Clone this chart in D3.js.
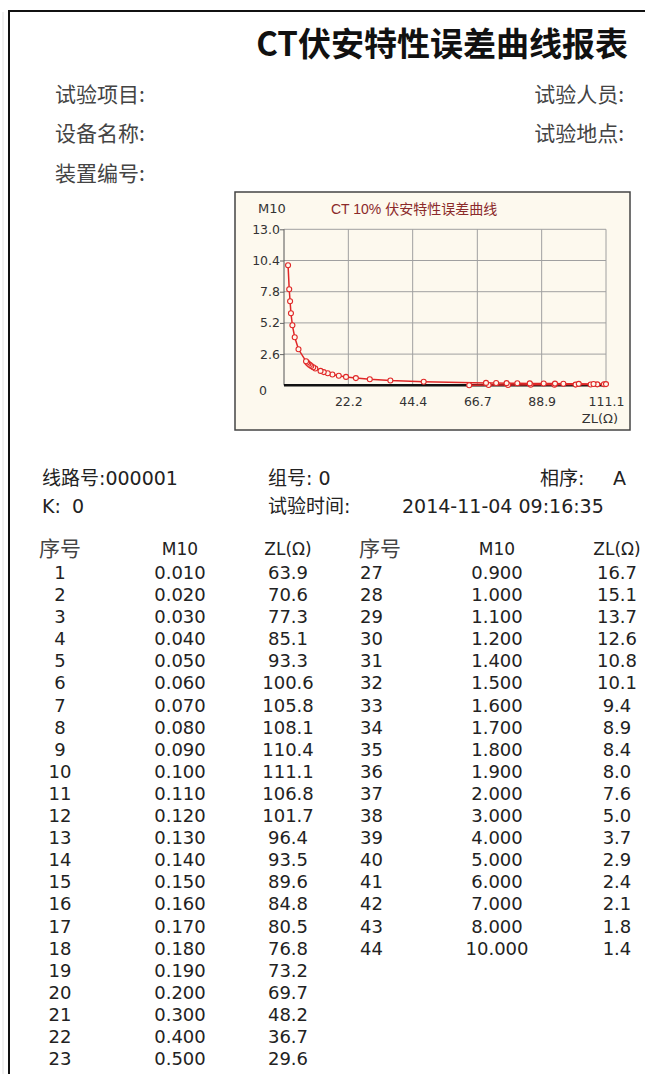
<!DOCTYPE html>
<html><head><meta charset="utf-8">
<script src="https://cdn.jsdelivr.net/npm/d3@7/dist/d3.min.js"></script>
<style>html,body{margin:0;padding:0;background:#fff;overflow:hidden}</style>
</head><body>
<svg id="c" width="645" height="1074"></svg>
<script>
// ---- data ----
const seq = [1,2,3,4,5,6,7,8,9,10,11,12,13,14,15,16,17,18,19,20,21,22,23,24,25,26,27,28,29,30,31,32,33,34,35,36,37,38,39,40,41,42,43,44];
const m10 = [0.010,0.020,0.030,0.040,0.050,0.060,0.070,0.080,0.090,0.100,0.110,0.120,0.130,0.140,0.150,0.160,0.170,0.180,0.190,0.200,0.300,0.400,0.500,0.600,0.700,0.800,0.900,1.000,1.100,1.200,1.400,1.500,1.600,1.700,1.800,1.900,2.000,3.000,4.000,5.000,6.000,7.000,8.000,10.000];
const zl = [63.9,70.6,77.3,85.1,93.3,100.6,105.8,108.1,110.4,111.1,106.8,101.7,96.4,93.5,89.6,84.8,80.5,76.8,73.2,69.7,48.2,36.7,29.6,24.8,21.4,18.9,16.7,15.1,13.7,12.6,10.8,10.1,9.4,8.9,8.4,8.0,7.6,5.0,3.7,2.9,2.4,2.1,1.8,1.4];
const yTicks = [0, 2.6, 5.2, 7.8, 10.4, 13.0];
const yTickLabels = ["0","2.6","5.2","7.8","10.4","13.0"];
const xTicks = [22.2, 44.4, 66.7, 88.9, 111.1];
const xTickLabels = ["22.2","44.4","66.7","88.9","111.1"];
const reportTitle = "CT伏安特性误差曲线报表";
const chartTitle = "CT 10% 伏安特性误差曲线";
const leftRows = 26;     // first column holds rows 1..26
const leftVisible = 23;  // rows 24-26 lie below the page edge in the reference

const svg = d3.select("#c");
const CJK = "'DejaVu Sans','Noto Sans CJK SC',sans-serif";
const NUM = "'DejaVu Sans',sans-serif";

// page border
svg.append("line").attr("x1",3).attr("x2",3).attr("y1",12).attr("y2",1074).attr("stroke","#e2e2e2").attr("stroke-width",1);
svg.append("path").attr("d","M9,1074 V11 H645").attr("fill","none").attr("stroke","#111").attr("stroke-width",2);

// title
svg.append("text").attr("x",628).attr("y",56).attr("text-anchor","end")
  .attr("font-family","'Noto Sans CJK SC',sans-serif").attr("font-weight","bold").attr("font-size",33)
  .attr("fill","#111").text(reportTitle);

// header labels
const labStyle = s => s.attr("font-family","'Noto Sans CJK SC',sans-serif").attr("font-size",21).attr("fill","#444");
labStyle(svg.append("text").attr("x",55).attr("y",102)).text("试验项目:");
labStyle(svg.append("text").attr("x",624).attr("y",102).attr("text-anchor","end")).text("试验人员:");
labStyle(svg.append("text").attr("x",55).attr("y",141)).text("设备名称:");
labStyle(svg.append("text").attr("x",624).attr("y",141).attr("text-anchor","end")).text("试验地点:");
labStyle(svg.append("text").attr("x",55).attr("y",181)).text("装置编号:");

// ---- chart ----
svg.append("rect").attr("x",235).attr("y",192).attr("width",395).attr("height",238)
  .attr("fill","#fdf9ee").attr("stroke","#444").attr("stroke-width",1.5);
const L=284, R=606, T=229.3, B=385.3;
const x = d3.scaleLinear().domain([0,111.1]).range([L,R]);
const y = d3.scaleLinear().domain([0,13]).range([B,T]);
const g = svg.append("g");
// grid
g.selectAll(".gy").data(yTicks.slice(1)).join("line")
  .attr("x1",L).attr("x2",R).attr("y1",d=>y(d)).attr("y2",d=>y(d)).attr("stroke","#a0a0a0").attr("stroke-width",1);
g.selectAll(".gx").data(xTicks).join("line")
  .attr("x1",d=>x(d)).attr("x2",d=>x(d)).attr("y1",T).attr("y2",B).attr("stroke","#a0a0a0").attr("stroke-width",1);
// left axis
const yAxis = d3.axisLeft(y).tickValues(yTicks.slice(1)).tickSize(4).tickFormat((d,i)=>yTickLabels[i+1]);
const ya = g.append("g").attr("transform",`translate(${L},0)`).call(yAxis);
ya.select(".domain").attr("stroke","#555").attr("d",`M0,${T}V${B}`);
ya.selectAll(".tick line").attr("stroke","#666");
ya.selectAll(".tick text").attr("font-family",NUM).attr("font-size",12.5).attr("fill","#333").attr("x",-4);
// zero label
g.append("text").attr("x",263).attr("y",395).attr("text-anchor","middle")
  .attr("font-family",NUM).attr("font-size",12.5).attr("fill","#333").text(yTickLabels[0]);
// bottom axis
const xAxis = d3.axisBottom(x).tickValues(xTicks).tickSize(0).tickPadding(12).tickFormat((d,i)=>xTickLabels[i]);
const xa = g.append("g").attr("transform",`translate(0,${B})`).call(xAxis);
xa.select(".domain").attr("stroke","#111").attr("stroke-width",2.5).attr("d",`M${L},0H${R}`);
xa.selectAll(".tick text").attr("font-family",NUM).attr("font-size",12.5).attr("fill","#333");
g.append("text").attr("x",618).attr("y",423).attr("text-anchor","end")
  .attr("font-family",NUM).attr("font-size",13).attr("fill","#333").text("ZL(Ω)");
g.append("text").attr("x",272).attr("y",213).attr("text-anchor","middle")
  .attr("font-family",NUM).attr("font-size",13).attr("fill","#333").text("M10");
g.append("text").attr("x",331).attr("y",214)
  .attr("font-family","'Liberation Sans','Noto Sans CJK SC',sans-serif").attr("font-size",14).attr("fill","#8b2a2a").text(chartTitle);
// series
const pts = zl.map((v,i)=>({zl:v, m:m10[i]}));
g.append("path").datum(pts).attr("fill","none").attr("stroke","#e02828").attr("stroke-width",1.5)
  .attr("d", d3.line().x(d=>x(d.zl)).y(d=>y(d.m)));
g.selectAll(".pt").data(pts).join("circle")
  .attr("cx",d=>x(d.zl)).attr("cy",d=>y(d.m)).attr("r",2.5)
  .attr("fill","#fdf9ee").attr("stroke","#e02828").attr("stroke-width",1.1);

// ---- info rows ----
const info = (xx,yy,t,anchor) => svg.append("text").attr("x",xx).attr("y",yy).attr("text-anchor",anchor||"start")
  .attr("font-family",CJK).attr("font-size",19).attr("fill","#222").text(t);
info(42,485,"线路号:000001");
info(268,485,"组号: 0");
info(540,485,"相序:");
info(626,485,"A","end");
info(42,513,"K:");
info(72,513,"0");
info(268,513,"试验时间:");
info(402,513,"2014-11-04 09:16:35");

// ---- table ----
const rowY0 = 572.4, rowH = 22.1;
const cols = [
  {seqX:60, seqAnchor:"middle", hdrX:60, hdrAnchor:"middle", mX:180, zX:288},
  {seqX:360, seqAnchor:"start", hdrX:359, hdrAnchor:"start", mX:497, zX:617}
];
const hdrY = 549;
cols.forEach(c=>{
  svg.append("text").attr("x",c.hdrX).attr("y",hdrY+7).attr("text-anchor",c.hdrAnchor)
    .attr("font-family","'Noto Sans CJK SC',sans-serif").attr("font-size",21).attr("fill","#444").text("序号");
  const hs = svg.append("g").attr("font-family",NUM).attr("font-size",17).attr("fill","#222");
  hs.append("text").attr("x",c.mX).attr("y",hdrY+6).attr("text-anchor","middle").text("M10");
  hs.append("text").attr("x",c.zX).attr("y",hdrY+6).attr("text-anchor","middle").text("ZL(Ω)");
});
const rows = seq.map((s,i)=>({s, m:m10[i], z:zl[i], col: i<leftRows?0:1, r: i<leftRows?i:i-leftRows}))
  .filter(d => d.col===1 || d.r < leftVisible);
const rg = svg.append("g").attr("font-family",NUM).attr("font-size",18).attr("fill","#222");
const rsel = rg.selectAll("g").data(rows).join("g").attr("transform",d=>`translate(0,${rowY0+d.r*rowH+6.5})`);
rsel.append("text").attr("x",d=>cols[d.col].seqX).attr("text-anchor",d=>cols[d.col].seqAnchor).text(d=>d.s);
rsel.append("text").attr("x",d=>cols[d.col].mX).attr("text-anchor","middle").text(d=>d.m.toFixed(3));
rsel.append("text").attr("x",d=>cols[d.col].zX).attr("text-anchor","middle").text(d=>d.z.toFixed(1));
</script>
</body></html>
